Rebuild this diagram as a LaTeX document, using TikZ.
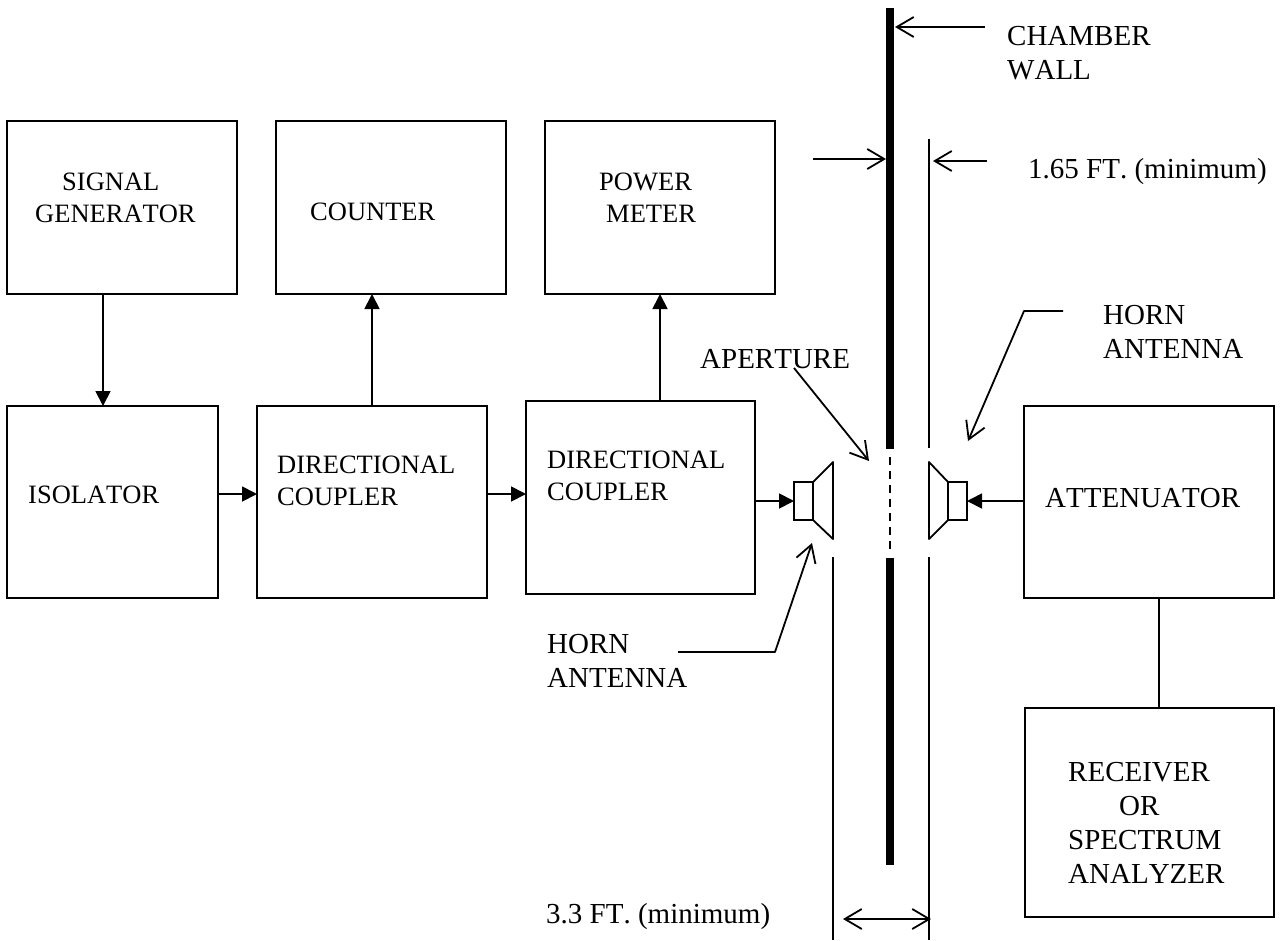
\documentclass[tikz,border=0pt]{standalone}
\usepackage{fontspec}
\setmainfont[Kerning=Off]{Liberation Serif}
\usetikzlibrary{arrows.meta,calc}
\tikzset{
  blk/.style={draw,line width=1.9pt,rectangle,inner sep=0pt,outer sep=0pt},
  lbl/.style={inner sep=0pt,align=left,anchor=base west,font=\fontsize{26.5}{32}\selectfont},
  lblb/.style={inner sep=0pt,align=left,anchor=base west,font=\fontsize{29}{34}\selectfont},
  ln/.style={line width=1.8pt},
  solidtip/.style={ln,-{Triangle[length=15pt,width=15pt]}},
  opentip/.style={ln,line join=round,-{Straight Barb[length=17pt,width=20pt,line width=1.8pt]}},
  opentwo/.style={ln,{Straight Barb[length=17pt,width=20pt,line width=1.8pt]}-{Straight Barb[length=17pt,width=20pt,line width=1.8pt]}},
  wall/.style={line width=8pt}
}
\newcommand{\bx}[5]{\node[blk,minimum width=#4pt - #2pt,minimum height=#5pt - #3pt,anchor=north west] (#1) at (#2,#3) {};}
\begin{document}
\begin{tikzpicture}[x=1pt,y=-1pt]
\useasboundingbox (0,0) rectangle (1281,940);
\bx{sg}{7}{121}{237}{294}
\bx{cnt}{276}{121}{506}{294}
\bx{pm}{545}{121}{775}{294}
\bx{iso}{7}{406}{218}{598}
\bx{dca}{257}{406}{487}{598}
\bx{dcb}{526}{401}{755}{594}
\bx{att}{1024}{406}{1274}{598}
\bx{rx}{1025}{708}{1274}{917}
\bx{hl}{794}{482}{813}{520}
\bx{hr}{948}{482}{967}{520}
\draw[ln,line join=round] (hl.north east) -- (833,462) -- (833,539) -- (hl.south east);
\draw[ln,line join=round] (hr.north west) -- (929,462) -- (929,539) -- (hr.south west);
\node[lbl] (tsg) at (35,222) {\hspace*{27pt}SIGNAL\\GENERATOR};
\node[lbl] (tcnt) at (310,220) {COUNTER};
\node[lbl] (tpm) at (599,222) {POWER\\\hspace*{7pt}METER};
\node[lbl] (tiso) at (28,503) {ISOLATOR};
\node[lbl] (tdca) at (277,505) {DIRECTIONAL\\COUPLER};
\node[lbl] (tdcb) at (547,500) {DIRECTIONAL\\COUPLER};
\node[lblb] (tatt) at (1045,507) {ATTENUATOR};
\node[lblb] (trx) at (1068,883) {RECEIVER\\\hspace*{51pt}OR\\SPECTRUM\\ANALYZER};
\node[lblb] (tcw) at (1007,79) {CHAMBER\\WALL};
\node[lblb] (t165) at (1028,178) {1.65 FT. (minimum)};
\node[lblb] (tap) at (700,368) {APERTURE};
\node[lblb] (thr) at (1103,358) {HORN\\ANTENNA};
\node[lblb] (thl) at (547,687) {HORN\\ANTENNA};
\node[lblb] (t33) at (546,923) {3.3 FT. (minimum)};
% signal path
\draw[solidtip] (sg.south -| 103,0) -- (iso.north -| 103,0);
\draw[solidtip] (dca.north -| 372,0) -- (cnt.south -| 372,0);
\draw[solidtip] (dcb.north -| 660,0) -- (pm.south -| 660,0);
\draw[solidtip] (iso.east |- 0,494) -- (dca.west |- 0,494);
\draw[solidtip] (dca.east |- 0,494) -- (dcb.west |- 0,494);
\draw[solidtip] (dcb.east |- hl.west) -- (hl.west);
\draw[solidtip] (att.west |- hr.east) -- (hr.east);
\draw[ln] (att.south -| 1159,0) -- (rx.north -| 1159,0);
% wall
\coordinate (wa) at (890.3,8); \coordinate (wb) at (890.3,449);
\coordinate (wc) at (890.3,558); \coordinate (wd) at (890.3,865);
\coordinate (wda) at (890.3,457); \coordinate (wdb) at (890.3,552);
\draw[wall] (wa) -- (wb);
\draw[wall] (wc) -- (wd);
\draw[line width=1.8pt,dash pattern=on 8pt off 6pt] (wda) -- (wdb);
% extent lines
\coordinate (ra) at (929,139); \coordinate (rb) at (929,448);
\coordinate (rc) at (929,557); \coordinate (rd) at (929,940);
\coordinate (la) at (833,557); \coordinate (lb) at (833,940);
\draw[ln] (ra) -- (rb);
\draw[ln] (rc) -- (rd);
\draw[ln] (la) -- (lb);
% leaders
\coordinate (cwa) at (985,27); \coordinate (cwb) at (895,27);
\draw[opentip] (cwa) -- (cwb);
\coordinate (dla) at (813,159); \coordinate (dlb) at (886,159);
\draw[opentip] (dla) -- (dlb);
\coordinate (dra) at (987,161); \coordinate (drb) at (933,161);
\draw[opentip] (dra) -- (drb);
\coordinate (apa) at (794,368); \coordinate (apb) at (869,461);
\draw[opentip] (apa) -- (apb);
\coordinate (hra) at (1063,311); \coordinate (hrb) at (1024,311); \coordinate (hrd) at (968,441);
\draw[opentip] (hra) -- (hrb) -- (hrd);
\coordinate (hla) at (678,652); \coordinate (hlb) at (775,652); \coordinate (hlc) at (812,543);
\draw[opentip] (hla) -- (hlb) -- (hlc);
\coordinate (da) at (843,919); \coordinate (db) at (931,919);
\draw[opentwo] (da) -- (db);
\end{tikzpicture}
\end{document}
